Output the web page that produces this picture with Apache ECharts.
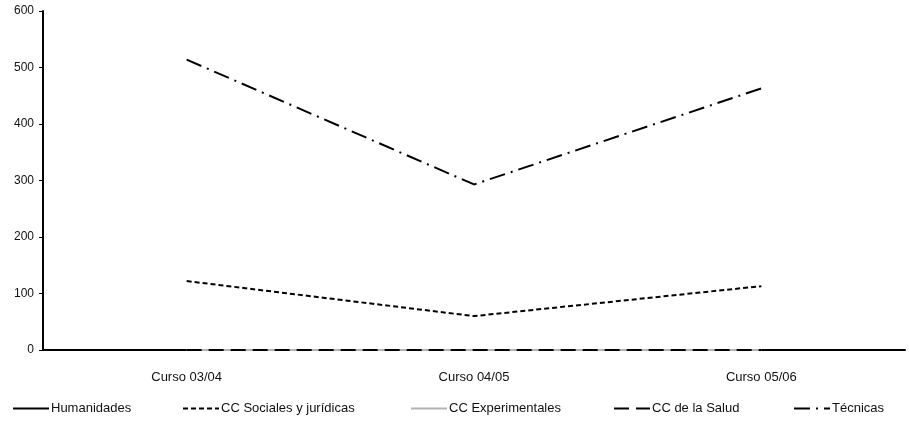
<!DOCTYPE html>
<html><head><meta charset="utf-8">
<script src="https://cdn.jsdelivr.net/npm/echarts@6/dist/echarts.min.js"></script>
<style>html,body{margin:0;padding:0;background:#fff}#c{width:909px;height:425px}</style>
</head><body><div id="c"></div>
<script>
const categories = ['Curso 03/04', 'Curso 04/05', 'Curso 05/06'];
const seriesNames = ['Humanidades', 'CC Sociales y jurídicas', 'CC Experimentales', 'CC de la Salud', 'Técnicas'];
const humanidades = [0, 0, 0];
const sociales = [122, 60, 113];
const experimentales = [0, 0, 0];
const salud = [0, 0, 0];
const tecnicas = [514, 293, 463];
const yTicks = [0, 100, 200, 300, 400, 500, 600];

const values = [humanidades, sociales, experimentales, salud, tecnicas];
const styles = [
  {color: '#000', type: 'solid'},
  {color: '#000', type: [5, 3]},
  {color: '#b3b3b3', type: 'solid'},
  {color: '#000', type: [15, 7]},
  {color: '#000', type: [16, 6, 2, 6]}
];
const legendLeft = [12, 182, 410, 613, 793];

const chart = echarts.init(document.getElementById('c'));
chart.setOption({
  animation: false,
  textStyle: {fontFamily: 'Liberation Sans, Arial, sans-serif'},
  grid: {left: 43, right: 4, top: 11, bottom: 75},
  legend: seriesNames.map((n, i) => ({
    data: [n], left: legendLeft[i], top: 402, itemWidth: 36, itemHeight: 14, itemGap: 0,
    itemStyle: {opacity: 0},
    textStyle: {fontSize: 13, color: '#111', padding: [0, 0, 0, -3]},
    padding: 0
  })),
  xAxis: {
    type: 'category', data: categories, boundaryGap: true,
    axisLine: {lineStyle: {color: '#000', width: 2}},
    axisTick: {show: false},
    axisLabel: {fontSize: 13, color: '#111', margin: 21}
  },
  yAxis: {
    type: 'value', min: yTicks[0], max: yTicks[yTicks.length - 1], interval: 100,
    splitLine: {show: false},
    axisLine: {show: true, lineStyle: {color: '#000', width: 2}},
    axisTick: {show: true, length: 4, lineStyle: {color: '#000', width: 1}},
    axisLabel: {fontSize: 12, color: '#111', margin: 9}
  },
  series: seriesNames.map((n, i) => ({
    name: n, type: 'line', data: values[i], symbol: 'none',
    lineStyle: {color: styles[i].color, type: styles[i].type, width: 2},
    itemStyle: {color: styles[i].color}
  }))
});
</script></body></html>
